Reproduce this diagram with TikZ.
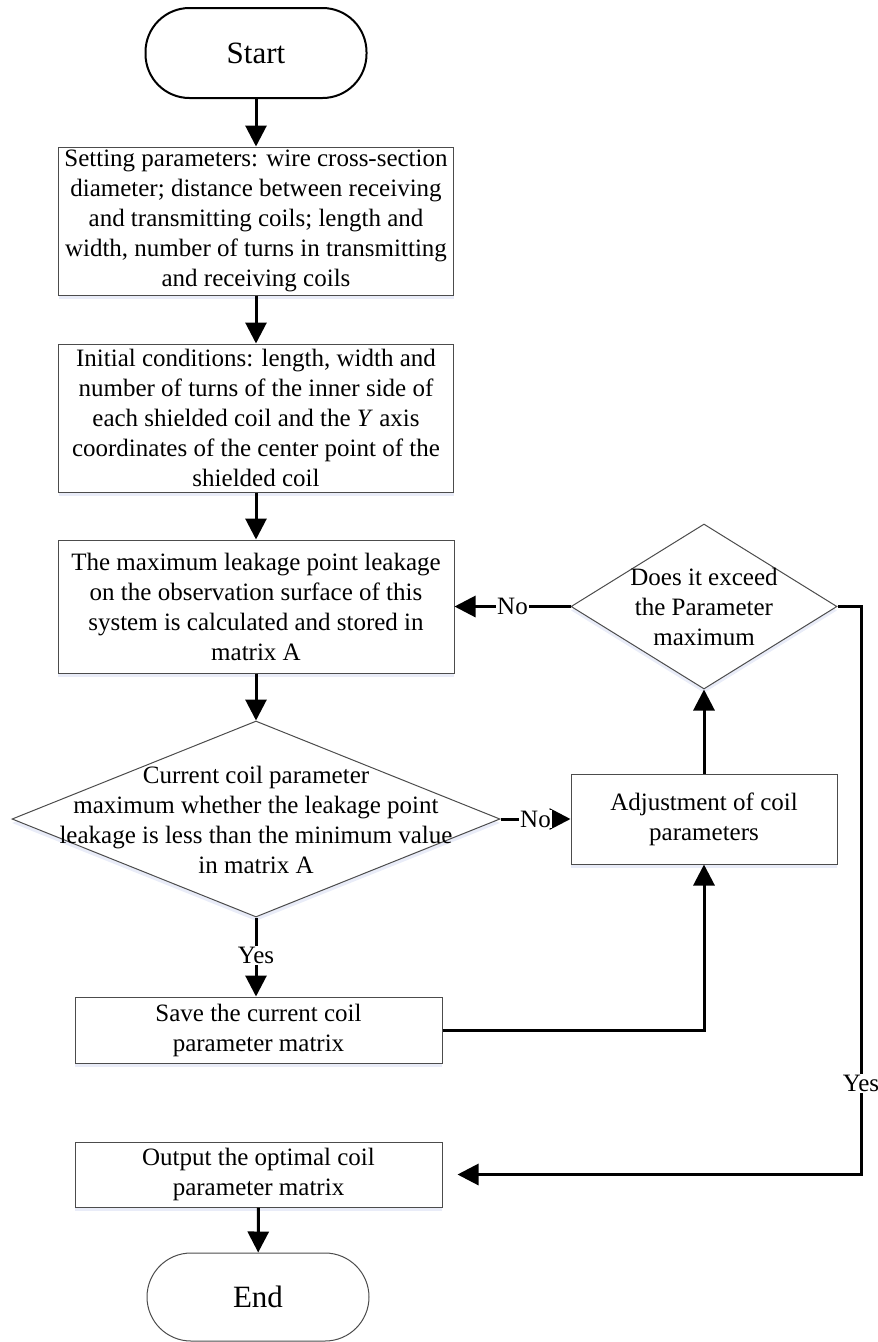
\documentclass[tikz,border=0pt]{standalone}
\usepackage{fontspec}
\setmainfont{Liberation Serif}
\usetikzlibrary{shapes.geometric,arrows.meta,shadows,calc}
\tikzset{
  box/.style={draw=black!70, line width=1pt, fill=white, rectangle, inner sep=0pt, align=center,
    font=\fontsize{25pt}{30pt}\selectfont,
    drop shadow={shadow xshift=0pt, shadow yshift=-4pt, fill=cyan!40!blue!25, opacity=0.35}},
  dia/.style={draw=black!70, line width=1pt, fill=white, diamond, inner sep=0pt,
    drop shadow={shadow xshift=0pt, shadow yshift=-4pt, fill=cyan!40!blue!25, opacity=0.35}},
  txt/.style={align=center, inner sep=0pt, font=\fontsize{25pt}{30pt}\selectfont},
  term/.style={draw, rectangle, rounded corners=44pt, fill=white, font=\fontsize{31pt}{36pt}\selectfont},
  arr/.style={line width=3pt, -{Triangle[length=21pt,width=21pt]}},
  lbl/.style={fill=white, inner sep=1pt, font=\fontsize{25pt}{30pt}\selectfont},
}
\begin{document}
\begin{tikzpicture}[x=1pt,y=-1pt]
\useasboundingbox (0,0) rectangle (878,1342);
\node[term, line width=2pt, minimum width=221pt, minimum height=90pt] (start) at (256,53) {Start};
\node[box, minimum width=395pt, minimum height=148pt] (b1) at (256,221)
  {Setting parameters: wire cross-section\\diameter; distance between receiving\\and transmitting coils; length and\\width, number of turns in transmitting\\and receiving coils};
\node[box, minimum width=395pt, minimum height=148pt] (b2) at (256,418)
  {Initial conditions: length, width and\\number of turns of the inner side of\\each shielded coil and the \textit{Y} axis\\coordinates of the center point of the\\shielded coil};
\node[box, minimum width=396pt, minimum height=133pt] (b3) at (256,606.5)
  {The maximum leakage point leakage\\on the observation surface of this\\system is calculated and stored in\\matrix A};
\node[dia, minimum width=488pt, minimum height=196pt] (d1) at (256,819) {};
\node[txt] (d1t) at (256,820) {Current coil parameter\\maximum whether the leakage point\\leakage is less than the minimum value\\in matrix A};
\node[dia, minimum width=266pt, minimum height=165pt] (d2) at (704,606.5) {};
\node[txt] (d2t) at (704,607) {Does it exceed\\the Parameter\\maximum};
\node[box, minimum width=266pt, minimum height=90pt] (adj) at (704,819) {Adjustment of coil\\parameters};
\node[box, minimum width=367pt, minimum height=66pt] (save) at (258.5,1030) {Save the current coil\\parameter matrix};
\node[box, minimum width=367pt, minimum height=65pt] (out) at (258.5,1174.5) {Output the optimal coil\\parameter matrix};
\node[term, draw=black!70, line width=1pt, minimum width=222pt, minimum height=88pt] (end) at (258,1297) {End};
\coordinate (rx) at (861,0);

\draw[arr] (start) -- (b1);
\draw[arr] (b1) -- (b2);
\draw[arr] (b2) -- (b3);
\draw[arr] (b3) -- (d1);
\draw[arr] (d1.south) -- node[lbl, pos=0.48] (yes1) {Yes} (d1.south |- save.north);
\draw[arr] (d1.east) -- node[lbl, pos=0.5] (no1) {No} (adj.west);
\draw[arr] (d2.west) -- node[lbl, pos=0.5] (no2) {No} (b3.east);
\draw[arr] (adj.north) -- (d2.south);
\draw[arr] (save.east) -| (adj.south);
\draw[arr, shorten >=15pt] (d2.east) -- (d2.east -| rx) -- node[lbl, pos=0.84] (yes2) {Yes} (rx |- out.east) -- (out.east);
\draw[arr] (out) -- (end);
\end{tikzpicture}
\end{document}
